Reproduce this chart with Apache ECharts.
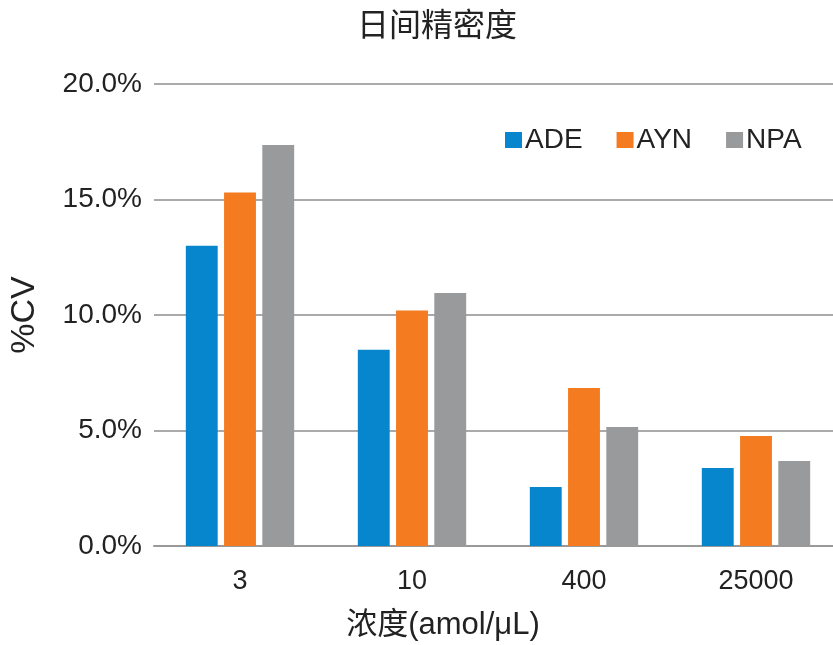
<!DOCTYPE html>
<html>
<head>
<meta charset="utf-8">
<script src="https://cdn.jsdelivr.net/npm/echarts@6/dist/echarts.min.js"></script>
<style>
  html, body { margin: 0; padding: 0; background: #ffffff; overflow: hidden; }
  /* the reference crops the last bar group slightly, so the chart is a bit wider than the window */
  #main { width: 842px; height: 645px; }
</style>
</head>
<body>
<div id="main"></div>
<script>
// 浓度 categories
var categories = ['3', '10', '400', '25000'];
// %CV values for each series
var adeValues = [13.0, 8.5, 2.55, 3.38];
var aynValues = [15.3, 10.2, 6.84, 4.76];
var npaValues = [17.36, 10.95, 5.15, 3.68];
var seriesNames = ['ADE', 'AYN', 'NPA'];

var font = '"Liberation Sans", "Noto Sans CJK SC", sans-serif';
var chart = echarts.init(document.getElementById('main'));

var option = {
  backgroundColor: '#ffffff',
  color: ['#0786CE', '#F47B20', '#999A9C'],
  title: [
    {
      text: '日间精密度',
      left: 432,
      top: 6,
      textAlign: 'center',
      textStyle: { fontFamily: font, fontSize: 32, fontWeight: 'normal', color: '#222' }
    },
    {
      text: '浓度(amol/μL)',
      left: 438,
      top: 605,
      textAlign: 'center',
      textStyle: { fontFamily: font, fontSize: 31, fontWeight: 'normal', color: '#222' }
    }
  ],
  legend: {
    data: seriesNames,
    left: 500,
    top: 121,
    icon: 'rect',
    itemWidth: 17,
    itemHeight: 16,
    itemGap: 34,
    textStyle: { fontFamily: font, fontSize: 28, color: '#222', padding: [0, 0, 0, -2] }
  },
  grid: {
    left: 152,
    right: 0,
    top: 84,
    bottom: 99
  },
  xAxis: {
    type: 'category',
    data: categories,
    axisTick: { show: false },
    axisLine: { lineStyle: { color: '#999', width: 2 } },
    axisLabel: { fontFamily: font, fontSize: 27, color: '#222', margin: 22 }
  },
  yAxis: {
    type: 'value',
    min: 0,
    max: 20,
    interval: 5,
    name: '%CV',
    nameLocation: 'middle',
    nameGap: 112,
    nameTextStyle: { fontFamily: font, fontSize: 34, color: '#222' },
    axisLine: { show: false },
    axisTick: { show: false },
    axisLabel: {
      fontFamily: font,
      fontSize: 28,
      color: '#222',
      margin: 12,
      formatter: function (v) { return v.toFixed(1) + '%'; }
    },
    splitLine: { lineStyle: { color: '#aaa', width: 2 } }
  },
  series: [
    { name: 'ADE', type: 'bar', data: adeValues, barGap: '20%', barCategoryGap: '37%' },
    { name: 'AYN', type: 'bar', data: aynValues, barGap: '20%', barCategoryGap: '37%' },
    { name: 'NPA', type: 'bar', data: npaValues, barGap: '20%', barCategoryGap: '37%' }
  ]
};

chart.setOption(option);
</script>
</body>
</html>
